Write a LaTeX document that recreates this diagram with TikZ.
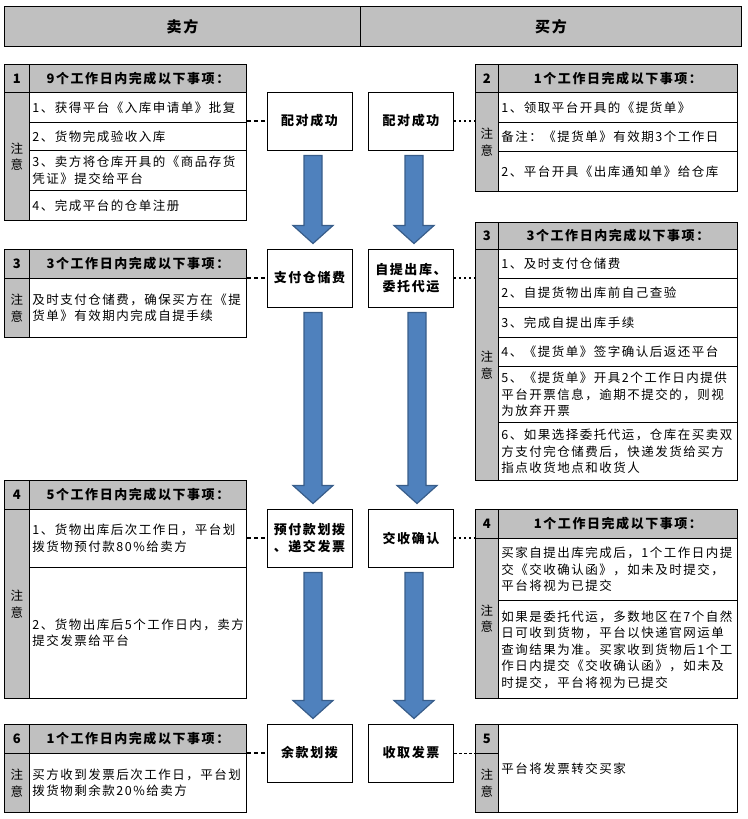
\documentclass[tikz,border=0pt]{standalone}
\usepackage{fontspec}
\setmainfont{Noto Sans CJK SC}[LetterSpace=12]
\usetikzlibrary{calc}

\definecolor{hdgray}{RGB}{192,192,192}
\definecolor{arrowblue}{RGB}{79,129,189}
\definecolor{arrowedge}{RGB}{56,93,138}
\newcommand{\bodyfont}{\fontsize{12.5}{16.5}\selectfont}
\newcommand{\headfont}{\bfseries\fontsize{13}{16}\selectfont}

\begin{document}
\begin{tikzpicture}[x=1pt, y=-1pt,
    cellbase/.style={draw, line width=0.9pt, anchor=north west, inner sep=0pt},
    numL/.style={cellbase, fill=hdgray, minimum width=25, align=center, font=\bodyfont},
    numR/.style={cellbase, fill=hdgray, minimum width=23, align=center, font=\bodyfont},
    headL/.style={cellbase, fill=hdgray, minimum width=217, font=\headfont},
    headR/.style={cellbase, fill=hdgray, minimum width=239, font=\headfont},
    rowL/.style={cellbase, fill=white, inner xsep=3pt, text width=211, align=left, font=\bodyfont},
    rowR/.style={cellbase, fill=white, inner xsep=3pt, text width=233, align=left, font=\bodyfont},
    topcell/.style={cellbase, line width=1.2pt, fill=hdgray, minimum height=40, font=\bfseries\fontsize{15}{18}\selectfont},
    stagebox/.style={draw, line width=1pt, fill=white, minimum width=85, minimum height=58, inner sep=2pt, align=center, font=\bfseries\fontsize{13}{17}\selectfont},
    bigarrow/.style={draw=arrowedge, line width=1.2pt, fill=arrowblue},
    ldash/.style={line width=1.6pt, dash pattern=on 4pt off 3pt},
    rdot/.style={line width=1.6pt, dash pattern=on 2pt off 3pt},
    rthin/.style={line width=0.7pt, dash pattern=on 3pt off 2pt}
]
\useasboundingbox (0,0) rectangle (747,819);

% column titles
\node[topcell, minimum width=356] (sell) at (4,6) {卖方};
\node[topcell, minimum width=381] (buy) at (360,6) {买方};

% seller 1
\node[numL, minimum height=28, font=\headfont] (s1n) at (4,64) {1};
\node[headL, minimum height=28] (s1h) at (29,64) {9个工作日内完成以下事项：};
\node[numL, minimum height=128] (s1z) at (4,92) {注\\意};
\node[rowL, minimum height=30] (s1a) at (29,92) {1、获得平台《入库申请单》批复};
\node[rowL, minimum height=28] (s1b) at (29,122) {2、货物完成验收入库};
\node[rowL, minimum height=40] (s1c) at (29,150) {3、卖方将仓库开具的《商品存货\\凭证》提交给平台};
\node[rowL, minimum height=30] (s1d) at (29,190) {4、完成平台的仓单注册};

% seller 3
\node[numL, minimum height=29, font=\headfont] (s3n) at (4,249) {3};
\node[headL, minimum height=29] (s3h) at (29,249) {3个工作日内完成以下事项：};
\node[numL, minimum height=59] (s3z) at (4,278) {注\\意};
\node[rowL, minimum height=59] (s3a) at (29,278) {及时支付仓储费，确保买方在《提\\货单》有效期内完成自提手续};

% seller 4
\node[numL, minimum height=29, font=\headfont] (s4n) at (4,480) {4};
\node[headL, minimum height=29] (s4h) at (29,480) {5个工作日内完成以下事项：};
\node[numL, minimum height=189] (s4z) at (4,509) {注\\意};
\node[rowL, minimum height=58] (s4a) at (29,509) {1、货物出库后次工作日，平台划\\拨货物预付款80\%给卖方};
\node[rowL, minimum height=131] (s4b) at (29,567) {2、货物出库后5个工作日内，卖方\\提交发票给平台};

% seller 6
\node[numL, minimum height=29, font=\headfont] (s6n) at (4,724) {6};
\node[headL, minimum height=29] (s6h) at (29,724) {1个工作日内完成以下事项：};
\node[numL, minimum height=59] (s6z) at (4,753) {注\\意};
\node[rowL, minimum height=59] (s6a) at (29,753) {买方收到发票后次工作日，平台划\\拨货物剩余款20\%给卖方};

% buyer 2
\node[numR, minimum height=28, font=\headfont] (b2n) at (475,64) {2};
\node[headR, minimum height=28] (b2h) at (498,64) {1个工作日完成以下事项：};
\node[numR, minimum height=99] (b2z) at (475,92) {注\\意};
\node[rowR, minimum height=30] (b2a) at (498,92) {1、领取平台开具的《提货单》};
\node[rowR, minimum height=29] (b2b) at (498,122) {备注：《提货单》有效期3个工作日};
\node[rowR, minimum height=40] (b2c) at (498,151) {2、平台开具《出库通知单》给仓库};

% buyer 3
\node[numR, minimum height=27, font=\headfont] (b3n) at (475,222) {3};
\node[headR, minimum height=27] (b3h) at (498,222) {3个工作日内完成以下事项：};
\node[numR, minimum height=231] (b3z) at (475,249) {注\\意};
\node[rowR, minimum height=29] (b3a) at (498,249) {1、及时支付仓储费};
\node[rowR, minimum height=29] (b3b) at (498,278) {2、自提货物出库前自己查验};
\node[rowR, minimum height=30] (b3c) at (498,307) {3、完成自提出库手续};
\node[rowR, minimum height=29] (b3d) at (498,337) {4、《提货单》签字确认后返还平台};
\node[rowR, minimum height=56] (b3e) at (498,366) {5、《提货单》开具2个工作日内提供\\平台开票信息，逾期不提交的，则视\\为放弃开票};
\node[rowR, minimum height=58] (b3f) at (498,422) {6、如果选择委托代运，仓库在买卖双\\方支付完仓储费后，快递发货给买方\\指点收货地点和收货人};

% buyer 4
\node[numR, minimum height=29, font=\headfont] (b4n) at (475,509) {4};
\node[headR, minimum height=29] (b4h) at (498,509) {1个工作日完成以下事项：};
\node[numR, minimum height=160] (b4z) at (475,538) {注\\意};
\node[rowR, minimum height=62] (b4a) at (498,538) {买家自提出库完成后，1个工作日内提\\交《交收确认函》，如未及时提交，\\平台将视为已提交};
\node[rowR, minimum height=98] (b4b) at (498,600) {如果是委托代运，多数地区在7个自然\\日可收到货物，平台以快递官网运单\\查询结果为准。买家收到货物后1个工\\作日内提交《交收确认函》，如未及\\时提交，平台将视为已提交};

% buyer 5
\node[numR, minimum height=29, font=\headfont] (b5n) at (475,724) {5};
\node[numR, minimum height=59] (b5z) at (475,753) {注\\意};
\node[rowR, minimum height=88] (b5a) at (498,724) {平台将发票转交买家};

% stages
\node[stagebox] (p1) at (309.5,121) {配对成功};
\node[stagebox] (q1) at (411,121) {配对成功};
\node[stagebox] (p2) at (309.5,278) {支付仓储费};
\node[stagebox] (q2) at (411,278) {自提出库、\\委托代运};
\node[stagebox] (p3) at (309.5,538) {预付款划拨\\、递交发票};
\node[stagebox] (q3) at (411,538) {交收确认};
\node[stagebox] (p4) at (309.5,753) {余款划拨};
\node[stagebox] (q4) at (411,753) {收取发票};

% flow arrows
\foreach \a/\b/\dx in {p1/p2/3.5, q1/q2/3, p2/p3/3.5, q2/q3/6, p3/p4/3.5, q3/q4/3}
    \draw[bigarrow] let \p1=($(\a.south)+(\dx,5)$), \p2=($(\b.north)+(\dx,-5)$) in
        (\x1-9pt,\y1) -- (\x1+9pt,\y1) -- (\x1+9pt,\y2+18pt) -- (\x1+20pt,\y2+18pt)
        -- (\x1,\y2) -- (\x1-20pt,\y2+18pt) -- (\x1-9pt,\y2+18pt) -- cycle;

% links to the notes
\draw[ldash] (s1a.east |- p1.west) -- (p1.west);
\draw[ldash] (s3a.east |- p2.west) -- (p2.west);
\draw[ldash] (s4a.east |- p3.west) -- (p3.west);
\draw[ldash] (s6a.east |- p4.west) -- (p4.west);
\draw[rdot] (q1.east) -- (b2z.west |- q1.east);
\draw[rdot] (q2.east) -- (b3z.west |- q2.east);
\draw[rdot] (q3.east) -- (b4z.west |- q3.east);
\draw[rthin] (q4.east) -- (b5z.west |- q4.east);

\end{tikzpicture}
\end{document}
